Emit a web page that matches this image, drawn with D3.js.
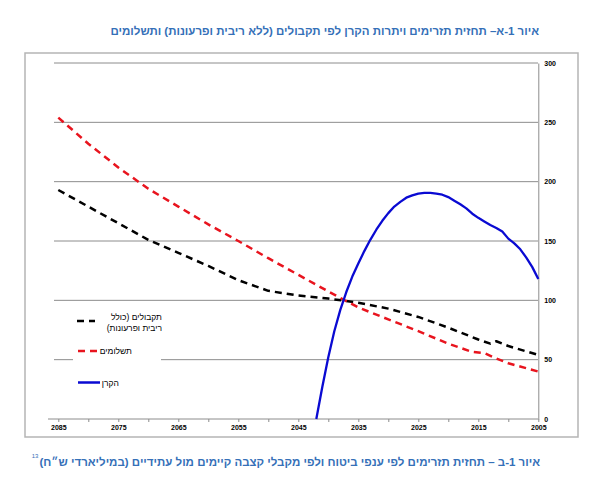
<!DOCTYPE html>
<html>
<head>
<meta charset="utf-8">
<script src="https://cdn.jsdelivr.net/npm/d3@7"></script>
<style>
  body { margin: 0; background: #fff; }
  svg text { font-family: "Liberation Sans", Arial, "DejaVu Sans", sans-serif; }
</style>
</head>
<body>
<svg id="chart" width="598" height="482"></svg>
<script>
// receipts (excluding interest and repayments) - black dashed
var receiptYears = [2085, 2080, 2075, 2070, 2065, 2060, 2055, 2050, 2045, 2040, 2035, 2030, 2025, 2020, 2015, 2013, 2012, 2010, 2005];
var receipts     = [193,  179,  165,  151,  140,  129,  117,  108,  104,  101.5, 98,  93,   86,   77,   67,   63.5, 65.5, 61.5, 54];

// payments - red dashed
var paymentYears = [2085, 2080, 2075, 2070, 2065, 2060, 2055, 2050, 2045, 2040, 2035, 2030, 2025, 2020, 2016, 2014, 2012, 2010, 2005];
var payments     = [254,  232,  212,  194,  179,  164,  150,  135.5, 121.5, 107.5, 94, 84,   74,   63.5, 56.5, 55.5, 51,   47,   40];

// fund balance - blue solid
var fundYears = [2042, 2041, 2040, 2039, 2038, 2037, 2036, 2035, 2034, 2033, 2032, 2031, 2030, 2029, 2028, 2027, 2026, 2025, 2024,
                 2023, 2022, 2021, 2020, 2019, 2018, 2017, 2016, 2015, 2014, 2013, 2012, 2011, 2010, 2009, 2008, 2007, 2006, 2005];
var fund      = [0,    27,   52,   74,   92,   107,  120,  131,  141.5, 151, 159.5, 167, 173.5, 179, 183,  186.5, 188.5, 190, 190.5,
                 190.5, 190, 189,  187,  184,  181,  177.5, 173, 169.5, 166.5, 163.5, 161, 158, 152,  148,  143,  136,  128,  118];

var xTicks = [2085, 2080, 2075, 2070, 2065, 2060, 2055, 2050, 2045, 2040, 2035, 2030, 2025, 2020, 2015, 2010, 2005];
var yTicks = [0, 50, 100, 150, 200, 250, 300];

var title = "איור 1-א– תחזית תזרימים ויתרות הקרן לפי תקבולים (ללא ריבית ופרעונות) ותשלומים";
var caption = "איור 1-ב – תחזית תזרימים לפי ענפי ביטוח ולפי מקבלי קצבה קיימים מול עתידיים (במיליארדי ש״ח)";
var footnote = "13";

var svg = d3.select("#chart");
var blue = "#3570b8";

svg.append("text")
  .attr("x", 539).attr("y", 35)
  .style("direction", "rtl")
  .attr("text-anchor", "start")
  .attr("font-size", 11.5).attr("font-weight", "bold")
  .attr("fill", blue)
  .text(title);

// chart frame
svg.append("rect")
  .attr("x", 25).attr("y", 53).attr("width", 553).attr("height", 384)
  .attr("fill", "#fff").attr("stroke", "#b5b5b5").attr("stroke-width", 1.5);

var x = d3.scaleLinear().domain([2085, 2005]).range([58.3, 538.3]);
var y = d3.scaleLinear().domain([0, 300]).range([419, 63]);

// gridlines
svg.append("g").selectAll("line.grid")
  .data(yTicks.filter(function(d) { return d > 0; }))
  .enter().append("line")
  .attr("x1", 54).attr("x2", 538)
  .attr("y1", function(d) { return y(d); })
  .attr("y2", function(d) { return y(d); })
  .attr("stroke", "#8c8c8c").attr("stroke-width", 1);

// x axis
var gx = svg.append("g").attr("transform", "translate(0," + y(0) + ")")
  .call(d3.axisBottom(x).tickValues(xTicks).tickSize(3).tickPadding(3)
    .tickFormat(function(d) { return (2085 - d) % 10 === 0 ? d : ""; }));
gx.select(".domain").attr("d", "M48,0H538.3").attr("stroke", "#8c8c8c");
gx.selectAll(".tick line").attr("stroke", "#8c8c8c");
gx.selectAll(".tick text").attr("font-size", 7).attr("font-weight", "bold").attr("fill", "#000")
  .attr("font-family", "'Liberation Sans', Arial, sans-serif");

// y axis
var gy = svg.append("g").attr("transform", "translate(538.3,0)")
  .call(d3.axisRight(y).tickValues(yTicks).tickSize(0).tickPadding(6));
gy.select(".domain").attr("stroke", "#8c8c8c");
gy.selectAll(".tick text").attr("font-size", 7).attr("font-weight", "bold").attr("fill", "#000")
  .attr("font-family", "'Liberation Sans', Arial, sans-serif");

var line = d3.line()
  .x(function(d) { return x(d[0]); })
  .y(function(d) { return y(d[1]); });

var series = [
  { years: receiptYears, values: receipts, color: "#000000", dash: "7,5", width: 2.5 },
  { years: paymentYears, values: payments, color: "#e8141e", dash: "7,5", width: 2.5 },
  { years: fundYears, values: fund, color: "#0a0ad2", dash: null, width: 2.3 }
];

svg.append("g").selectAll("path.series")
  .data(series)
  .enter().append("path")
  .attr("fill", "none")
  .attr("stroke", function(s) { return s.color; })
  .attr("stroke-width", function(s) { return s.width; })
  .attr("stroke-dasharray", function(s) { return s.dash; })
  .attr("stroke-linejoin", "round")
  .attr("d", function(s) {
    return line(s.years.map(function(yr, i) { return [yr, s.values[i]]; }));
  });

// legend
var legend = svg.append("g");
legend.append("rect")
  .attr("x", 73).attr("y", 306).attr("width", 88).attr("height", 95)
  .attr("fill", "#fff");

var legendItems = [
  { lines: ["תקבולים (כולל", "ריבית ופרעונות)"], color: "#000000", dash: "7,5", my: 321, x1: 77, x2: 95, tx: 162, ty: 320 },
  { lines: ["תשלומים"], color: "#e8141e", dash: "7,5", my: 351, x1: 78, x2: 102, tx: 132, ty: 354 },
  { lines: ["הקרן"], color: "#0a0ad2", dash: null, my: 382.5, x1: 78, x2: 100, tx: 119, ty: 385.5 }
];

legendItems.forEach(function(it) {
  legend.append("line")
    .attr("x1", it.x1).attr("x2", it.x2)
    .attr("y1", it.my).attr("y2", it.my)
    .attr("stroke", it.color).attr("stroke-width", 2.5)
    .attr("stroke-dasharray", it.dash);
  it.lines.forEach(function(t, i) {
    legend.append("text")
      .attr("x", it.tx).attr("y", it.ty + i * 11)
      .style("direction", "rtl")
      .attr("text-anchor", "start")
      .attr("font-size", 8.5)
      .attr("fill", "#000")
      .text(t);
  });
});

// caption below the chart, footnote mark placed just left of it
var cap = svg.append("text")
  .attr("x", 540).attr("y", 466)
  .style("direction", "rtl")
  .attr("text-anchor", "start")
  .attr("font-size", 11.5).attr("font-weight", "bold")
  .attr("fill", blue)
  .text(caption);

var capBox = cap.node().getBBox();
svg.append("text")
  .attr("x", capBox.x - 1).attr("y", 458)
  .attr("text-anchor", "end")
  .attr("font-size", 6).attr("fill", blue)
  .text(footnote);
</script>
</body>
</html>
